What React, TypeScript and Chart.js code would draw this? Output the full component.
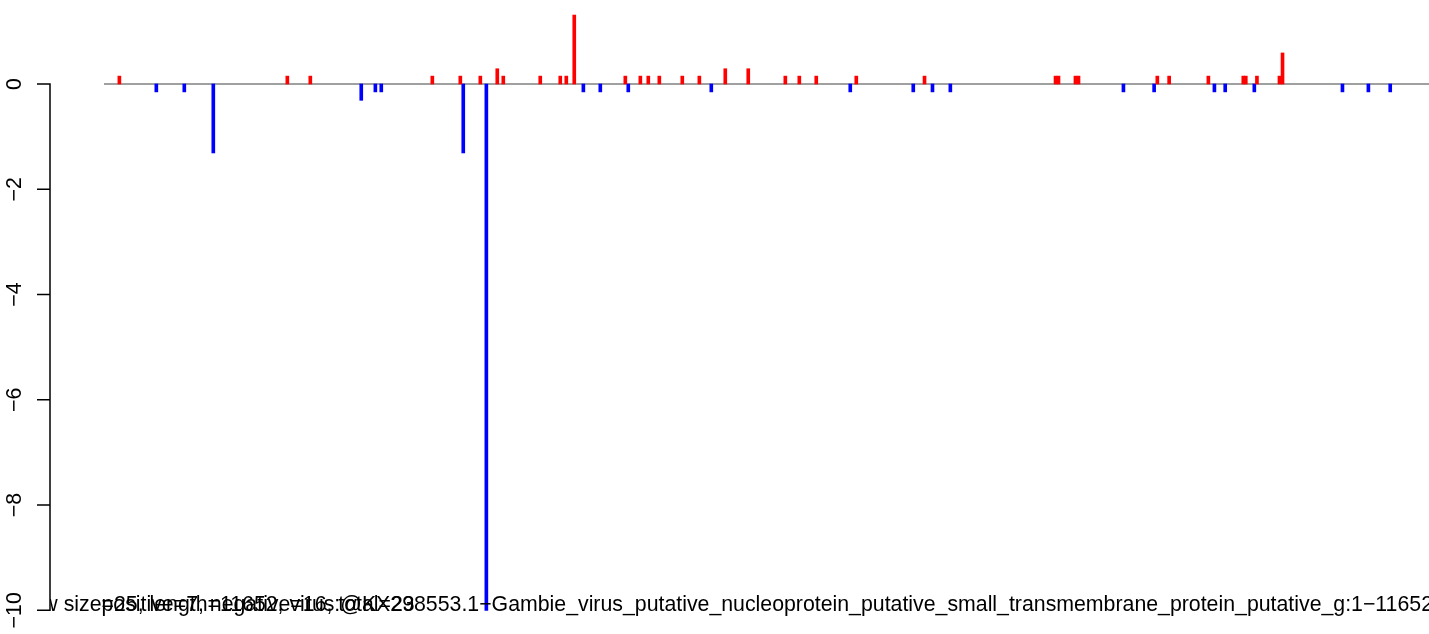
import React, { useEffect, useRef } from "react";
import { Chart, registerables } from "chart.js";

Chart.register(...registerables);

const GENOME_LENGTH = 11652;

// Positive (red) bars: genome position and value
const redPositions = [
  136, 1613, 1815, 2888, 3134, 3310, 3459, 3512, 3837, 4013, 4066, 4136,
  4585, 4717, 4787, 4884, 5086, 5236, 5464, 5666, 5992, 6115, 6264, 6616,
  7216, 8368, 8394, 8543, 8570, 9263, 9367, 9712, 10019, 10041, 10139,
  10337, 10364,
];
const redValues = [
  0.15, 0.15, 0.15, 0.15, 0.15, 0.15, 0.29, 0.15, 0.15, 0.15, 0.15, 1.31,
  0.15, 0.15, 0.15, 0.15, 0.15, 0.15, 0.29, 0.29, 0.15, 0.15, 0.15, 0.15,
  0.15, 0.15, 0.15, 0.15, 0.15, 0.15, 0.15, 0.15, 0.15, 0.15, 0.15,
  0.15, 0.59,
];

// Negative (blue) bars: genome position and value
const bluePositions = [
  461, 707, 962, 2263, 2387, 2439, 3160, 3363, 4216, 4365, 4611, 5341,
  6563, 7117, 7286, 7443, 8965, 9235, 9765, 9860, 10116, 10891, 11119, 11311,
];
const blueValues = [
  -0.15, -0.15, -1.31, -0.31, -0.15, -0.15, -1.31, -10, -0.15, -0.15, -0.15, -0.15,
  -0.15, -0.15, -0.15, -0.15, -0.15, -0.15, -0.15, -0.15, -0.15, -0.15, -0.15, -0.15,
];

const baselineX = [1, GENOME_LENGTH];
const yTickValues = [0, -2, -4, -6, -8, -10];
const yTickLabels = ["0", "\u22122", "\u22124", "\u22126", "\u22128", "\u221210"];

const titleText =
  "window size=25, length=11652, virus:@KX298553.1\u2212Gambie_virus_putative_nucleoprotein_putative_small_transmembrane_protein_putative_g:1\u221211652";
const countsText = "positive=7, negative=16, total=23";

const FONT = '21.3px "Liberation Sans", Arial, Helvetica, sans-serif';

export default function App() {
  const ref = useRef<HTMLCanvasElement | null>(null);

  useEffect(() => {
    document.body.style.margin = "0";
    document.body.style.overflow = "hidden";
    const canvas = ref.current;
    if (!canvas) return;

    const rAxisPlugin = {
      id: "rAxis",
      afterDraw(chart: any) {
        const ctx = chart.ctx as CanvasRenderingContext2D;
        const ys = chart.scales.y;
        const area = chart.chartArea;
        const axisX = area.left;
        ctx.save();
        ctx.strokeStyle = "#000";
        ctx.lineWidth = 1.5;
        ctx.beginPath();
        ctx.moveTo(axisX, ys.getPixelForValue(yTickValues[0]));
        ctx.lineTo(axisX, ys.getPixelForValue(yTickValues[yTickValues.length - 1]));
        yTickValues.forEach((v) => {
          const py = ys.getPixelForValue(v);
          ctx.moveTo(axisX - 13, py);
          ctx.lineTo(axisX + 0.75, py);
        });
        ctx.stroke();

        ctx.fillStyle = "#000";
        ctx.font = FONT;
        ctx.textAlign = "center";
        ctx.textBaseline = "alphabetic";
        yTickValues.forEach((v, i) => {
          const py = ys.getPixelForValue(v);
          ctx.save();
          ctx.translate(21, py);
          ctx.rotate(-Math.PI / 2);
          ctx.fillText(yTickLabels[i], 0, 0);
          ctx.restore();
        });

        // overlapping bottom texts, clipped to plot region
        ctx.beginPath();
        ctx.rect(area.left, 0, chart.width - area.left, chart.height);
        ctx.clip();
        const ty = ys.getPixelForValue(-10) + 0.8;
        const titleRight = chart.width + 4;
        ctx.textAlign = "right";
        ctx.fillText(titleText, titleRight, ty);
        const tail = titleText.slice(titleText.indexOf("size=") + 4);
        const countsLeft = titleRight - ctx.measureText(tail).width;
        ctx.textAlign = "left";
        ctx.fillText(countsText, countsLeft, ty);
        ctx.restore();
      },
    };

    const chart = new Chart(canvas, {
      type: "bar",
      data: {
        datasets: [
          {
            type: "bar",
            data: redPositions.map((x, i) => ({ x, y: redValues[i] })),
            backgroundColor: "#ff0000",
            borderWidth: 0,
            barThickness: 3,
            grouped: false,
            order: 1,
          } as any,
          {
            type: "bar",
            data: bluePositions.map((x, i) => ({ x, y: blueValues[i] })),
            backgroundColor: "#0000ff",
            borderWidth: 0,
            barThickness: 3,
            grouped: false,
            order: 1,
          } as any,
          {
            type: "line",
            data: baselineX.map((x) => ({ x, y: 0 })),
            borderColor: "#808080",
            borderWidth: 1.5,
            pointRadius: 0,
            order: 3,
          } as any,
        ],
      },
      options: {
        responsive: false,
        animation: false,
        layout: { padding: 0 },
        plugins: {
          legend: { display: false },
          tooltip: { enabled: false },
          title: { display: false },
        },
        scales: {
          x: {
            type: "linear",
            min: -474,
            max: GENOME_LENGTH,
            offset: false,
            display: false,
          },
          y: {
            type: "linear",
            min: -10.45,
            max: 1.596,
            display: true,
            ticks: { display: false },
            grid: { display: false },
            border: { display: false },
            afterBuildTicks: (scale: any) => {
              scale.ticks = yTickValues.map((v) => ({ value: v }));
            },
            afterFit: (scale: any) => {
              scale.width = 50;
              scale.paddingTop = 0;
              scale.paddingBottom = 0;
            },
          },
        },
      } as any,
      plugins: [rAxisPlugin],
    });

    return () => {
      chart.destroy();
    };
  }, []);

  return (
    <canvas
      ref={ref}
      width={1429}
      height={634}
      style={{ display: "block", width: "1429px", height: "634px" }}
    />
  );
}
